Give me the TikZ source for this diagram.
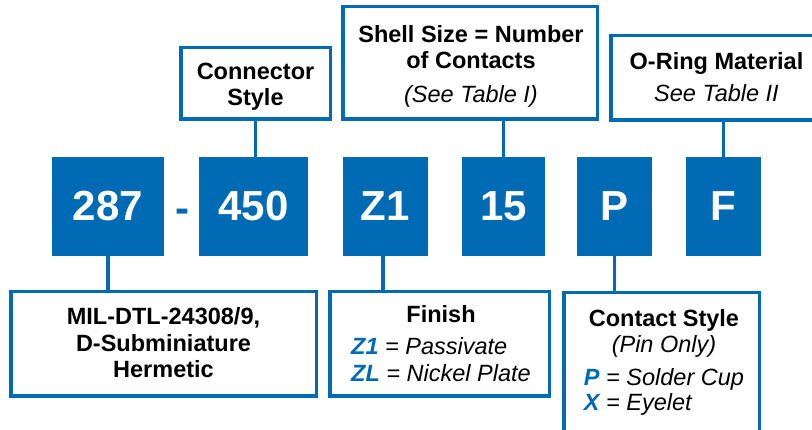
\documentclass[tikz,border=0pt]{standalone}
\usepackage{fontspec}
\setmainfont{Liberation Sans}
\definecolor{pblue}{RGB}{0,106,180}
\tikzset{
  numbox/.style={fill=pblue, text=white, inner sep=0pt, minimum height=99pt,
    font=\fontsize{42}{48}\selectfont\bfseries},
  lblbox/.style={draw=pblue, line width=3.5pt, fill=white, inner sep=0pt},
  lbltext/.style={anchor=base, inner sep=0pt, font=\fontsize{23.5}{26}\selectfont},
  lblbold/.style={anchor=base, inner sep=0pt, font=\fontsize{23.5}{26}\selectfont\bfseries},
  link/.style={draw=pblue, line width=3.5pt},
}
\newcommand{\codekey}[1]{\textcolor{pblue}{\bfseries\itshape #1}}
\begin{document}
\begin{tikzpicture}[x=1pt,y=-1pt]
\useasboundingbox (0,0) rectangle (812,430);
% code boxes
\node[numbox, minimum width=112pt] (b287) at (108,206.5) {287};
\node[numbox, minimum width=109pt] (b450) at (253.5,206.5) {450};
\node[numbox, minimum width=85pt] (bZ1) at (385.5,206.5) {Z1};
\node[numbox, minimum width=83pt] (b15) at (503.5,206.5) {15};
\node[numbox, minimum width=75pt] (bP) at (614.5,206.5) {P};
\node[numbox, minimum width=75pt] (bF) at (723.5,206.5) {F};
\node[anchor=base, inner sep=0pt, text=pblue, font=\fontsize{42}{48}\selectfont\bfseries] (dash) at (182.5,223) {-};
% label boxes
\node[lblbox, minimum width=149.5pt, minimum height=71.5pt] (conn) at (255.5,83.5) {};
\node[lblbox, minimum width=254.5pt, minimum height=112.5pt] (shell) at (470,63) {};
\node[lblbox, minimum width=211.5pt, minimum height=84.5pt] (oring) at (716.5,78) {};
\node[lblbox, minimum width=305.5pt, minimum height=104.5pt] (mil) at (163.5,344) {};
\node[lblbox, minimum width=219.5pt, minimum height=104.5pt] (fin) at (439.5,344) {};
\node[lblbox, minimum width=195.5pt, minimum height=141.5pt] (cont) at (661.5,363.5) {};
% connectors
\draw[link] (conn.south) -- (conn.south |- b450.north);
\draw[link] (b15.north) -- (b15.north |- shell.south);
\draw[link] (bF.north) -- (bF.north |- oring.south);
\draw[link] (b287.south) -- (b287.south |- mil.north);
\draw[link] ([xshift=-2.5pt]bZ1.south) -- ([xshift=-2.5pt]bZ1.south |- fin.north);
\draw[link] (bP.south) -- (bP.south |- cont.north);
% texts
\node[lblbold] (connT) at (255.5,80) {\begin{tabular}[t]{@{}c@{}}Connector\\Style\end{tabular}};
\node[lblbold] (shellT) at (471,43) {\begin{tabular}[t]{@{}c@{}}Shell Size = Number\\of Contacts\\[8pt]\mdseries\itshape (See Table I)\end{tabular}};
\node[lblbold] (oringT) at (716.5,70) {\begin{tabular}[t]{@{}c@{}}O-Ring Material\\[6pt]\mdseries\itshape See Table II\end{tabular}};
\node[lblbold] (milT) at (163.5,325) {\begin{tabular}[t]{@{}c@{}}MIL-DTL-24308/9,\\[0.5pt]D-Subminiature\\[0.5pt]Hermetic\end{tabular}};
\node[lblbold] (finT) at (441,323) {\begin{tabular}[t]{@{}l@{}}\multicolumn{1}{@{}c@{}}{Finish}\\[6pt]\codekey{Z1} \mdseries\itshape = Passivate\\[1pt]\codekey{ZL} \mdseries\itshape = Nickel Plate\end{tabular}};
\node[lblbold] (contT) at (664,327) {\begin{tabular}[t]{@{}l@{}}\multicolumn{1}{@{}c@{}}{Contact Style}\\\multicolumn{1}{@{}c@{}}{\mdseries\itshape (Pin Only)}\\[7pt]\codekey{P} \mdseries\itshape = Solder Cup\\[-1pt]\codekey{X} \mdseries\itshape = Eyelet\end{tabular}};
\end{tikzpicture}
\end{document}
